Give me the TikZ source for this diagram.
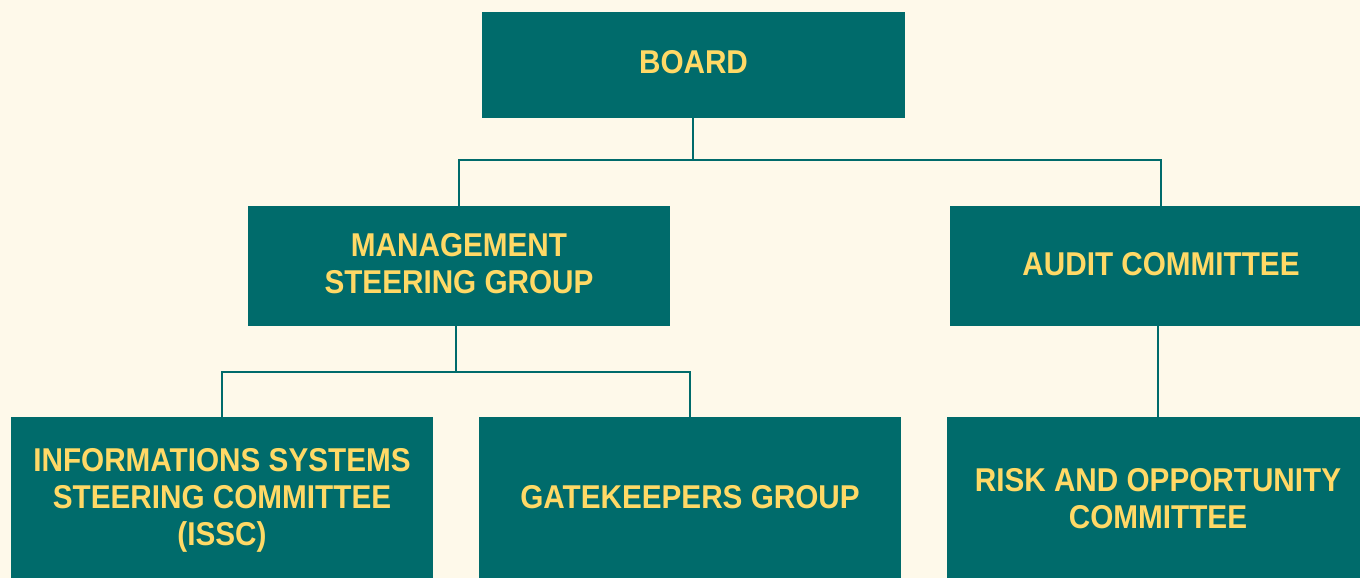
\documentclass[tikz,border=0pt]{standalone}
\usepackage{fontspec}
\setmainfont{Liberation Sans}[FakeStretch=0.9]
\definecolor{bg}{HTML}{FEF9EA}
\definecolor{teal}{HTML}{006B6B}
\definecolor{gold}{HTML}{FFD966}
\begin{document}
\begin{tikzpicture}[x=1pt,y=-1pt,
  box/.style={fill=teal,draw=none,inner sep=0pt},
  lbl/.style={text=gold,font=\bfseries\fontsize{33}{37}\selectfont,align=center,inner sep=0pt},
  link/.style={draw=teal,line width=1.3pt}]
\fill[bg] (0,0) rectangle (1360,578);
\useasboundingbox (0,0) rectangle (1360,578);
\begin{scope}
\clip (0,0) rectangle (1360,578);
\node[box,minimum width=423pt,minimum height=106pt] (board) at (693.5,65) {};
\node[lbl] at (693.5,62) {BOARD};
\node[box,minimum width=422pt,minimum height=120pt] (msg) at (459,266) {};
\node[lbl] at (459,263.5) {MANAGEMENT\\STEERING GROUP};
\node[box,minimum width=422pt,minimum height=120pt] (audit) at (1161,266) {};
\node[lbl] at (1161,264) {AUDIT COMMITTEE};
\node[box,minimum width=422pt,minimum height=170pt] (issc) at (222,502) {};
\node[lbl] at (222,500) {INFORMATIONS SYSTEMS\\STEERING COMMITTEE\\(ISSC)};
\node[box,minimum width=422pt,minimum height=170pt] (gate) at (690,502) {};
\node[lbl] at (690,497) {GATEKEEPERS GROUP};
\node[box,minimum width=422pt,minimum height=170pt] (risk) at (1158,502) {};
\node[lbl] at (1158,498.5) {RISK AND OPPORTUNITY\\COMMITTEE};
\end{scope}
\coordinate (j1) at (693,160);
\coordinate (j2) at (456,372);
\draw[link] (board.south -| j1) -- (j1);
\draw[link] (msg.north) |- (j1) -| (audit.north);
\draw[link] (msg.south -| j2) -- (j2);
\draw[link] (issc.north) |- (j2) -| (gate.north);
\draw[link] (audit.south -| risk.north) -- (risk.north);
\end{tikzpicture}
\end{document}
